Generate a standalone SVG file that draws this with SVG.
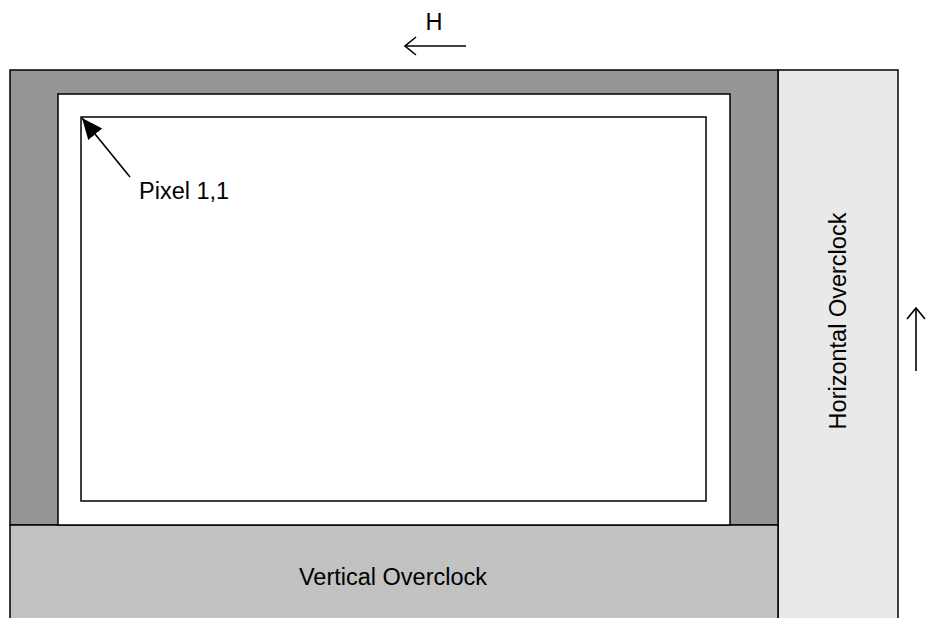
<svg xmlns="http://www.w3.org/2000/svg" width="932" height="618" viewBox="0 0 932 618">
<style>
.ln{stroke:#000;stroke-width:1.6;fill:none}
.box{stroke:#000;stroke-width:1.5}
.t{font-family:"Liberation Sans",Arial,sans-serif;font-size:23.5px;fill:#000}
</style>
<defs>
<marker id="open" viewBox="0 0 13 20" refX="12" refY="10" markerWidth="13" markerHeight="20" markerUnits="userSpaceOnUse" orient="auto">
<path d="M1,1 L12,10 L1,19" fill="none" stroke="#000" stroke-width="1.6"/>
</marker>
<marker id="fill" viewBox="0 0 22 20" refX="21" refY="10" markerWidth="22" markerHeight="20" markerUnits="userSpaceOnUse" orient="auto">
<path d="M21,10 L0,1 L0,19 Z" fill="#000"/>
</marker>
</defs>
<rect width="932" height="618" fill="#fff"/>
<g id="horizontal-overclock">
<rect class="box" x="778" y="70" width="120" height="560" fill="#e9e9e9"/>
<text class="t" transform="translate(846,321) rotate(-90)" text-anchor="middle">Horizontal Overclock</text>
</g>
<g id="frame">
<rect class="box" x="10" y="70" width="768" height="455" fill="#959595"/>
</g>
<g id="vertical-overclock">
<rect class="box" x="10" y="525" width="768" height="105" fill="#c2c2c2"/>
<text class="t" x="393" y="585" text-anchor="middle">Vertical Overclock</text>
</g>
<g id="image-area">
<rect class="box" x="58" y="94" width="672" height="431" fill="#fff"/>
</g>
<g id="pixel-array">
<rect class="box" x="81" y="117" width="625" height="384" fill="#fff"/>
</g>
<g id="connectors">
<line class="ln" x1="130" y1="177" x2="82" y2="118" marker-end="url(#fill)"/>
<line class="ln" x1="466" y1="46" x2="405" y2="46" marker-end="url(#open)"/>
<line class="ln" x1="916" y1="371" x2="916" y2="308" marker-end="url(#open)"/>
</g>
<g id="labels">
<text class="t" x="139" y="199">Pixel 1,1</text>
<text class="t" x="434" y="30" text-anchor="middle">H</text>
</g>
</svg>
